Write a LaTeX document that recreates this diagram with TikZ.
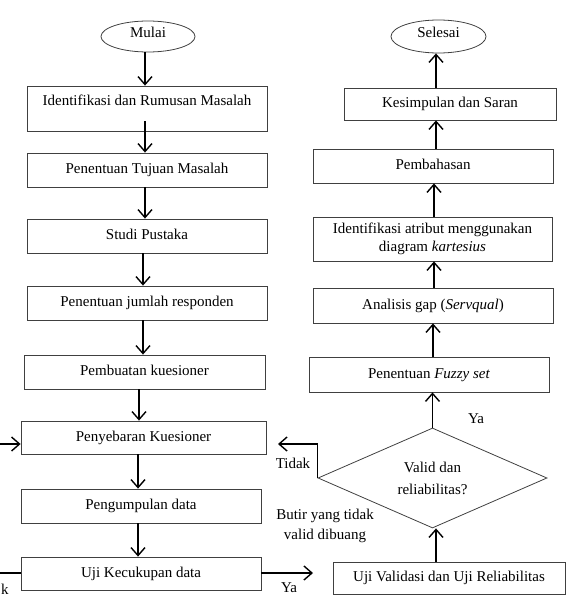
\documentclass[tikz,border=0pt]{standalone}
\usepackage{fontspec}
\setmainfont{Liberation Serif}
\usetikzlibrary{shapes.geometric,arrows.meta,calc}
\begin{document}
\begin{tikzpicture}[x=1pt,y=-1pt,
  every node/.style={font=\fontsize{15}{17}\selectfont},
  boxbase/.style={draw=black!75, line width=0.8pt, inner sep=0pt},
  box/.style={boxbase, text height=10pt, text depth=3pt},
  term/.style={draw=black!75, line width=0.8pt, ellipse, inner sep=0pt, text height=10pt, text depth=9pt},
  arr/.style={line width=1.5pt, -{Straight Barb[length=8pt,width=14pt,line width=1.4pt]}},
  plainline/.style={line width=1.2pt},
  lbl/.style={inner sep=0pt}
]
\useasboundingbox (0,0) rectangle (567,597);

% left column
\node[term, minimum width=94pt, minimum height=31pt] (mulai) at (148,36.5) {Mulai};
\node[boxbase, minimum width=240pt, minimum height=45pt, text height=11pt, text depth=18pt] (b1) at (147,108.5) {Identifikasi dan Rumusan Masalah};
\node[box, minimum width=240pt, minimum height=34pt] (b2) at (147,170) {Penentuan Tujuan Masalah};
\node[box, minimum width=240pt, minimum height=34pt] (b3) at (147,236) {Studi Pustaka};
\node[box, minimum width=240pt, minimum height=34pt] (b4) at (147,303) {Penentuan jumlah responden};
\node[box, minimum width=241pt, minimum height=34pt] (b5) at (144.5,372) {Pembuatan kuesioner};
\node[box, minimum width=245pt, minimum height=33pt] (b6) at (143.5,437.5) {Penyebaran Kuesioner};
\node[box, minimum width=240pt, minimum height=34pt] (b7) at (141,506) {Pengumpulan data};
\node[box, minimum width=240pt, minimum height=33pt] (b8) at (141,573.5) {Uji Kecukupan data};

% right column
\node[term, minimum width=95pt, minimum height=33pt] (selesai) at (438.5,36.5) {Selesai};
\node[box, minimum width=212pt, minimum height=32pt] (ks) at (450,104) {Kesimpulan dan Saran};
\node[box, minimum width=240pt, minimum height=34pt] (pb) at (433,166) {Pembahasan};
\node[boxbase, minimum width=239pt, minimum height=44pt, align=center, font=\fontsize{15}{18}\selectfont] (id) at (432.5,239) {Identifikasi atribut menggunakan\\diagram \textit{kartesius}};
\node[box, minimum width=240pt, minimum height=35pt] (an) at (433,305.5) {Analisis gap (\textit{Servqual})};
\node[box, minimum width=240pt, minimum height=35pt] (fz) at (429,374.5) {Penentuan \textit{Fuzzy set}};
\node[draw=black!75, line width=0.8pt, diamond, inner sep=0pt, minimum width=229pt, minimum height=100pt, aspect=2.29, align=center, font=\fontsize{15}{22}\selectfont] (dia) at (432.5,478) {Valid dan\\reliabilitas?};
\node[box, minimum width=232pt, minimum height=32pt] (uv) at (449,578) {Uji Validasi dan Uji Reliabilitas};

% labels
\node[lbl] (yaT) at (476,419) {Ya};
\node[lbl] (tidakR) at (293,463) {Tidak};
\node[lbl, align=center, font=\fontsize{15}{20}\selectfont] (butir) at (325,526) {Butir yang tidak\\valid dibuang};
\node[lbl] (yaB) at (289,588) {Ya};
\node[lbl] (kL) at (5,589) {k};

% coordinates for free ends
\coordinate (tk) at (278,444);
\coordinate (lin) at (0,444);
\coordinate (lout) at (0,573);
\coordinate (yaend) at (313,573);

% left arrows
\draw[arr] (145,0 |- mulai.south) -- (145,0 |- b1.north);
\draw[arr] ([yshift=10pt]145,0 |- b1.south) -- (145,0 |- b2.north);
\draw[arr] (145,0 |- b2.south) -- (145,0 |- b3.north);
\draw[arr] (143,0 |- b3.south) -- (143,0 |- b4.north);
\draw[arr] (143,0 |- b4.south) -- (143,0 |- b5.north);
\draw[arr] (139,0 |- b5.south) -- (139,0 |- b6.north);
\draw[arr] (138,0 |- b6.south) -- (138,0 |- b7.north);
\draw[arr] (138,0 |- b7.south) -- (138,0 |- b8.north);

% right arrows
\draw[arr] (436,0 |- ks.north) -- (436,0 |- selesai.south);
\draw[arr] (436,0 |- pb.north) -- (436,0 |- ks.south);
\draw[arr] (434,0 |- id.north) -- (434,0 |- pb.south);
\draw[arr] (434,0 |- an.north) -- (434,0 |- id.south);
\draw[arr] (433,0 |- fz.north) -- (433,0 |- an.south);
\draw[arr] (dia.north) -- (dia.north |- fz.south);
\draw[arr] (436,0 |- uv.north) -- (436,0 |- dia.south);

% decision and loop lines
\draw[arr] (dia.west) |- (tk);
\draw[arr] (lin) -- (lin -| b6.west);
\draw[plainline] (b8.west |- lout) -- (lout);
\draw[arr] (b8.east |- yaend) -- (yaend);
\end{tikzpicture}
\end{document}
